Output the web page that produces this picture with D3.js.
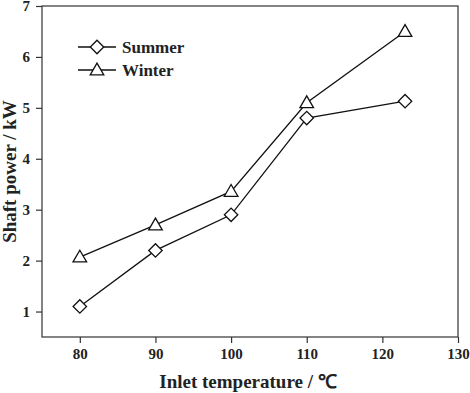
<!DOCTYPE html>
<html>
<head>
<meta charset="utf-8">
<script src="https://cdn.jsdelivr.net/npm/d3@7"></script>
<style>
  body { margin: 0; background: #fff; }
  text { font-family: "Liberation Serif", "Times New Roman", serif; font-weight: bold; fill: #222; }
</style>
</head>
<body>
<div id="chart"></div>
<script>
// data
const temps = [80, 90, 100, 110, 123]
const summer = [1.1, 2.2, 2.9, 4.8, 5.13]
const winter = [2.07, 2.7, 3.36, 5.1, 6.5]
const xTicks = [80, 90, 100, 110, 120, 130]
const yTicks = [1, 2, 3, 4, 5, 6, 7]
const seriesNames = ['Summer', 'Winter']

const W = 470, H = 393
const margin = {top: 6, right: 12, bottom: 56, left: 42}
const width = W - margin.left - margin.right
const height = H - margin.top - margin.bottom

const svg = d3.select('#chart').append('svg')
  .attr('width', W).attr('height', H)

const g = svg.append('g')
  .attr('transform', `translate(${margin.left},${margin.top})`)

const x = d3.scaleLinear().domain([75, 130]).range([0, width])
const y = d3.scaleLinear().domain([0.5, 7]).range([height, 0])

const stroke = '#333'

// frame
g.append('rect')
  .attr('width', width).attr('height', height)
  .attr('fill', 'none').attr('stroke', stroke).attr('stroke-width', 1.2)

const xAxis = g.append('g')
  .attr('transform', `translate(0,${height})`)
  .call(d3.axisBottom(x).tickValues(xTicks).tickFormat(d3.format('d')).tickSize(6).tickPadding(5))
const yAxis = g.append('g')
  .call(d3.axisLeft(y).tickValues(yTicks).tickFormat(d3.format('d')).tickSize(6).tickPadding(6))

;[xAxis, yAxis].forEach(a => {
  a.select('.domain').remove()
  a.selectAll('line').attr('stroke', stroke).attr('stroke-width', 1.2)
  a.selectAll('text')
    .style('font-family', '"Liberation Serif", serif')
    .style('font-weight', 'bold')
    .style('font-size', '15px')
    .attr('fill', '#222')
})

// axis titles
svg.append('text')
  .attr('x', margin.left + width / 2 - 2).attr('y', 388)
  .attr('text-anchor', 'middle')
  .style('font-size', '19px')
  .text('Inlet temperature / ℃')

svg.append('text')
  .attr('transform', `translate(16,${margin.top + height / 2}) rotate(-90)`)
  .attr('text-anchor', 'middle')
  .style('font-size', '19px')
  .text('Shaft power / kW')

const line = d3.line().x(d => x(d[0])).y(d => y(d[1]))
const diamond = d3.symbol().type(d3.symbolSquare).size(90)
const triangle = d3.symbol().type(d3.symbolTriangle).size(80)

const series = [
  {name: seriesNames[0], values: summer, sym: diamond, rot: 45},
  {name: seriesNames[1], values: winter, sym: triangle, rot: 0}
]

series.forEach((s, i) => {
  const pts = temps.map((t, j) => [t, s.values[j]])
  g.append('path')
    .datum(pts)
    .attr('d', line)
    .attr('fill', 'none')
    .attr('stroke', '#111')
    .attr('stroke-width', 1.3)

  g.selectAll('.m' + i)
    .data(pts)
    .join('path')
    .attr('class', 'm' + i)
    .attr('d', s.sym)
    .attr('transform', d => `translate(${x(d[0])},${y(d[1]) + (s.rot ? 0 : 1)}) rotate(${s.rot})`)
    .attr('fill', '#fff')
    .attr('stroke', '#111')
    .attr('stroke-width', 1.3)

  // legend
  const ly = 47 + i * 23
  const lg = svg.append('g')
  lg.append('line')
    .attr('x1', 78).attr('x2', 116).attr('y1', ly).attr('y2', ly)
    .attr('stroke', '#111').attr('stroke-width', 1.3)
  lg.append('path')
    .attr('d', s.sym)
    .attr('transform', `translate(97,${ly + (s.rot ? 0 : 1)}) rotate(${s.rot})`)
    .attr('fill', '#fff').attr('stroke', '#111').attr('stroke-width', 1.3)
  lg.append('text')
    .attr('x', 122).attr('y', ly + 6)
    .style('font-size', '17px')
    .text(s.name)
})
</script>
</body>
</html>
